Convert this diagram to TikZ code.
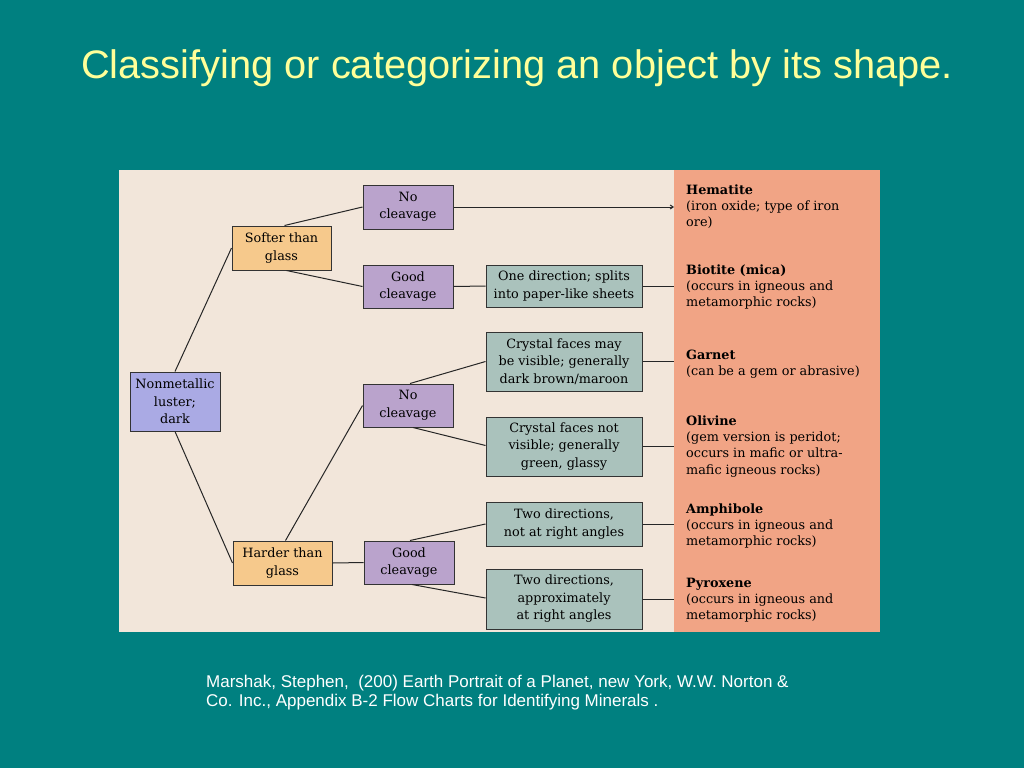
\documentclass[tikz,border=0pt]{standalone}
\usepackage{fontspec}
\setmainfont{DejaVu Serif}
\newfontfamily\arialf{Liberation Sans}
\usetikzlibrary{arrows.meta}
\definecolor{bgteal}{RGB}{0,128,128}
\definecolor{titleyellow}{RGB}{255,255,153}
\definecolor{panelbeige}{RGB}{242,230,218}
\definecolor{salmon}{RGB}{241,164,133}
\definecolor{lav}{RGB}{170,170,228}
\definecolor{orangebox}{RGB}{246,201,140}
\definecolor{purplebox}{RGB}{186,163,204}
\definecolor{graybox}{RGB}{170,194,188}
\begin{document}
\begin{tikzpicture}[x=1pt,y=-1pt,
  box/.style={draw=black!80, line width=1pt, align=center, inner sep=0pt,
    font=\fontsize{12.8}{17.5}\selectfont},
  lavbox/.style={box, fill=lav, minimum width=90, minimum height=59},
  hardbox/.style={box, fill=orangebox, minimum width=99, minimum height=44},
  cleavbox/.style={box, fill=purplebox, minimum width=90, minimum height=43},
  descbox/.style={box, fill=graybox, minimum width=156},
  link/.style={draw=black!85, line width=1pt},
  mineral/.style={anchor=north west, align=left, inner sep=0pt,
    font=\fontsize{12.8}{16.3}\selectfont}
]
\useasboundingbox (0,0) rectangle (1024,768);
\fill[bgteal] (0,0) rectangle (1024,768);
\fill[panelbeige] (119,170) rectangle (674,632);
\fill[salmon] (674,170) rectangle (880,632);

\node[anchor=base, text=titleyellow, font=\arialf\fontsize{39.8}{44}\selectfont] (title) at (517,78)
  {Classifying or categorizing an object by its shape.};

\node[lavbox] (nm) at (175,401.5) {Nonmetallic\\luster;\\dark};
\node[hardbox] (soft) at (281.5,248) {Softer than\\glass};
\node[hardbox] (hard) at (282.5,563) {Harder than\\glass};
\node[cleavbox, minimum height=44] (nc1) at (408,207) {No\\cleavage};
\node[cleavbox] (gc1) at (408,286.5) {Good\\cleavage};
\node[cleavbox] (nc2) at (408,405.5) {No\\cleavage};
\node[cleavbox] (gc2) at (409,562.5) {Good\\cleavage};
\node[descbox, minimum height=42] (od) at (564,286) {One direction; splits\\into paper-like sheets};
\node[descbox, minimum height=59] (cfm) at (564,361.5) {Crystal faces may\\be visible; generally\\dark brown/maroon};
\node[descbox, minimum height=59] (cfn) at (564,446.5) {Crystal faces not\\visible; generally\\green, glassy};
\node[descbox, minimum height=44] (tdn) at (564,524) {Two directions,\\not at right angles};
\node[descbox, minimum height=60] (tda) at (564,599) {Two directions,\\approximately\\at right angles};

\coordinate (e1) at (674,207);
\coordinate (e2) at (674,286);
\coordinate (e3) at (674,361.5);
\coordinate (e4) at (674,446.5);
\coordinate (e5) at (674,524);
\coordinate (e6) at (674,599);

\draw[link] (nm.north) -- (soft.west);
\draw[link] (nm.south) -- (hard.west);
\draw[link] ([xshift=3]soft.north) -- (nc1.west);
\draw[link] ([xshift=5]soft.south) -- (gc1.west);
\draw[link] ([xshift=3]hard.north) -- (nc2.west);
\draw[link] (hard.east) -- (gc2.west);
\draw[link, -{Straight Barb[length=3pt,width=4pt]}] (nc1.east) -- (e1);
\draw[link] (gc1.east) -- (od.west);
\draw[link] (od.east) -- (e2);
\draw[link] ([xshift=2]nc2.north) -- (cfm.west);
\draw[link] ([xshift=5]nc2.south) -- ([yshift=1]cfn.west);
\draw[link] ([xshift=1]gc2.north) -- (tdn.west);
\draw[link] ([xshift=3]gc2.south) -- ([yshift=1]tda.west);
\draw[link] (cfm.east) -- (e3);
\draw[link] (cfn.east) -- (e4);
\draw[link] (tdn.east) -- (e5);
\draw[link] (tda.east) -- (e6);

\node[mineral] (hem) at (686,182.5) {\strut\textbf{Hematite}\\(iron oxide; type of iron\\ore)};
\node[mineral] (bio) at (686,262.5) {\strut\textbf{Biotite (mica)}\\(occurs in igneous and\\metamorphic rocks)};
\node[mineral] (gar) at (686,347.5) {\strut\textbf{Garnet}\\(can be a gem or abrasive)};
\node[mineral] (oli) at (686,413.5) {\strut\textbf{Olivine}\\(gem version is peridot;\\occurs in mafic or ultra-\\mafic igneous rocks)};
\node[mineral] (amp) at (686,501.5) {\strut\textbf{Amphibole}\\(occurs in igneous and\\metamorphic rocks)};
\node[mineral] (pyr) at (686,575.5) {\strut\textbf{Pyroxene}\\(occurs in igneous and\\metamorphic rocks)};

\node[anchor=north west, align=left, inner sep=0pt, text=white,
  font=\arialf\fontsize{17}{19}\selectfont] (cite) at (206,674)
  {\strut Marshak, Stephen,\ \ (200) Earth Portrait of a Planet, new York, W.W. Norton \&\\
   Co. Inc., Appendix B-2 Flow Charts for Identifying Minerals .};
\end{tikzpicture}
\end{document}
